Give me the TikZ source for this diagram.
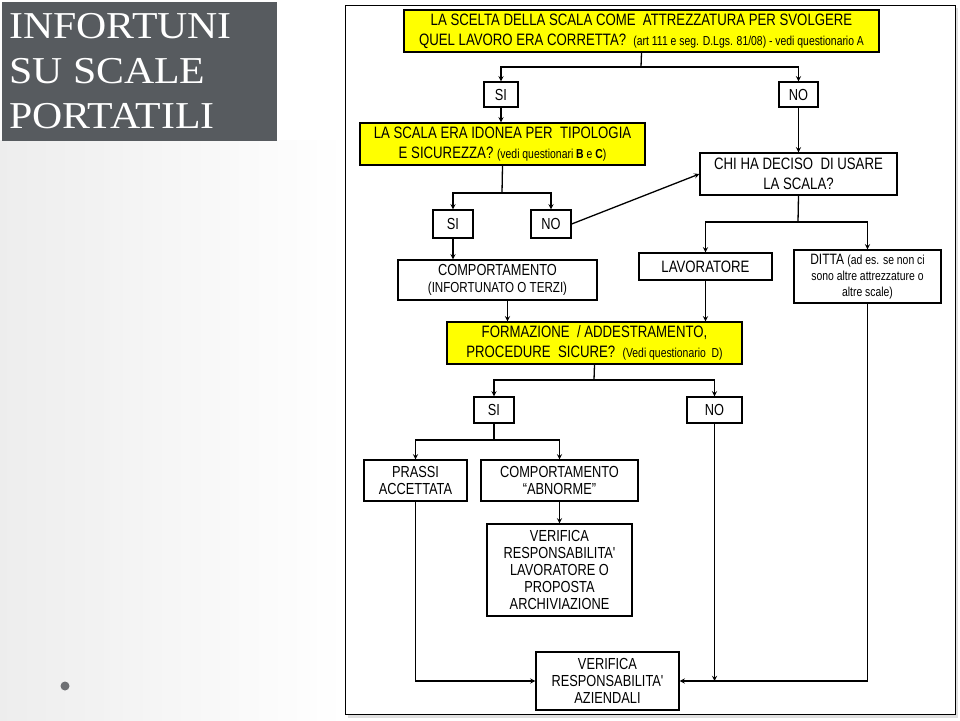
\documentclass[tikz,border=0pt]{standalone}
\usepackage{fontspec}
\setmainfont{Liberation Serif}
\newfontfamily\titlefont[FakeStretch=1.1]{Liberation Serif}
\newfontfamily\boxfont[FakeStretch=0.8]{Liberation Sans}
\newfontfamily\notefont[FakeStretch=0.8]{Liberation Sans}
\usetikzlibrary{arrows,shapes,positioning,calc}
\definecolor{qyellow}{RGB}{255,255,0}
\definecolor{titlegray}{RGB}{87,91,95}
\definecolor{dotgray}{RGB}{110,112,115}
\tikzstyle{arrow} = [line width=1.3pt,->,>=stealth]
\tikzstyle{link} = [line width=1.3pt]
\tikzstyle{ansbox} = [rectangle, draw=black, line width=1.3pt, fill=white, inner sep=0pt, align=center, font=\boxfont\fontsize{16}{17}\selectfont]
\tikzstyle{qbox} = [ansbox, fill=qyellow, font=\boxfont\fontsize{16.5}{20}\selectfont]
\tikzstyle{titletext} = [anchor=base west, inner sep=0pt, text=white, font=\titlefont\fontsize{38}{40}\selectfont]
\newcommand{\note}[1]{{\notefont\fontsize{13}{13}\selectfont #1}}

\begin{document}
\begin{tikzpicture}[x=1pt, y=-1pt]
\useasboundingbox (0,0) rectangle (960,720);
% page background
\fill[white] (0,0) rectangle (960,720);
\shade[left color=black!7, right color=white] (0,140) rectangle (345,720);
\fill[dotgray] (65,686) circle (4.5);

% title
\node[fill=titlegray, anchor=north west, minimum width=275, minimum height=139, inner sep=0pt] (title) at (2,2) {};
\node[titletext] (title1) at (9,38) {INFORTUNI};
\node[titletext] (title2) at (9,83) {SU SCALE};
\node[titletext] (title3) at (9,128) {PORTATILI};

% frame of the chart
\fill[black!12] (348,8) rectangle (958,718);
\draw[line width=1pt, fill=white] (345,5) rectangle (955,714);

% questions and answers
\node[qbox, minimum width=475, minimum height=42] (q1) at (641.5,31) {LA SCELTA DELLA SCALA COME \ ATTREZZATURA PER SVOLGERE\\QUEL LAVORO ERA CORRETTA? \ \note{(art 111 e seg. D.Lgs. 81/08) - vedi questionario A}};
\node[ansbox, minimum width=34, minimum height=25] (si1) at (501,94.5) {SI};
\node[ansbox, minimum width=39, minimum height=25] (no1) at (798.5,94.5) {NO};
\node[qbox, minimum width=285, minimum height=42] (q2) at (502.5,144) {LA SCALA ERA IDONEA PER \ TIPOLOGIA\\E SICUREZZA? \note{(vedi questionari \textbf{B} e \textbf{C})}};
\node[ansbox, minimum width=197, minimum height=42, font=\boxfont\fontsize{16.5}{20}\selectfont] (chi) at (798.5,174) {CHI HA DECISO \ DI USARE\\LA SCALA?};
\node[ansbox, minimum width=40, minimum height=28] (si2) at (453,224) {SI};
\node[ansbox, minimum width=40, minimum height=28] (no2) at (551,224) {NO};
\node[ansbox, minimum width=199, minimum height=40] (comp1) at (497.5,280) {COMPORTAMENTO\\{\fontsize{14.5}{17}\selectfont(INFORTUNATO O TERZI)}};
\node[ansbox, minimum width=133, minimum height=27, font=\boxfont\fontsize{16.5}{17}\selectfont] (lav) at (705.5,266.5) {LAVORATORE};
\node[ansbox, minimum width=147, minimum height=53, font=\boxfont\fontsize{15}{16}\selectfont] (ditta) at (867.5,276.5) {DITTA \note{(ad es. se non ci}\\\note{sono altre attrezzature o}\\\note{altre scale)}};
\node[qbox, minimum width=295, minimum height=42] (form) at (594.5,343) {FORMAZIONE \ / ADDESTRAMENTO,\\PROCEDURE \ SICURE? \ \note{(Vedi questionario \ D)}};
\node[ansbox, minimum width=40, minimum height=26] (si3) at (494,410) {SI};
\node[ansbox, minimum width=55, minimum height=26] (no3) at (714.5,410) {NO};
\node[ansbox, minimum width=103, minimum height=41] (prassi) at (415.5,480.5) {PRASSI\\ACCETTATA};
\node[ansbox, minimum width=157, minimum height=41] (comp2) at (559.5,480.5) {COMPORTAMENTO\\“ABNORME”};
\node[ansbox, minimum width=145, minimum height=92] (verlav) at (559.5,570) {VERIFICA\\RESPONSABILITA'\\LAVORATORE O\\PROPOSTA\\ARCHIVIAZIONE};
\node[ansbox, minimum width=143, minimum height=58] (veraz) at (607.5,681) {VERIFICA\\RESPONSABILITA'\\AZIENDALI};

% branch points
\coordinate (b1) at (641,67);
\coordinate (b2) at (502,193);
\coordinate (b3) at (798,222);
\coordinate (b4) at (594,380);
\coordinate (b5) at (494,440);

% connectors
\draw[link] (q1.south) -- (b1);
\draw[arrow] (b1) -| (si1.north);
\draw[arrow] (b1) -| (no1.north);
\draw[arrow] (si1.south) -- (si1.south |- q2.north);
\draw[arrow] (no1.south) -- (no1.south |- chi.north);
\draw[link] (q2.south) -- (b2);
\draw[arrow] (b2) -| (si2.north);
\draw[arrow] (b2) -| (no2.north);
\draw[arrow] (no2.east) -- (chi.west);
\draw[arrow] (si2.south) -- (si2.south |- comp1.north);
\draw[link] (chi.south) -- (b3);
\draw[arrow] (b3) -| (lav.north);
\draw[arrow] (b3) -| (ditta.north);
\draw[arrow] ([xshift=10pt]comp1.south) -- ([xshift=10pt]comp1.south |- form.north);
\draw[arrow] (lav.south) -- (lav.south |- form.north);
\draw[link] (form.south) -- (b4);
\draw[arrow] (b4) -| (si3.north);
\draw[arrow] (b4) -| (no3.north);
\draw[link] (si3.south) -- (b5);
\draw[arrow] (b5) -| (prassi.north);
\draw[arrow] (b5) -| (comp2.north);
\draw[arrow] (comp2.south) -- (verlav.north);
\draw[arrow] (prassi.south) |- (veraz.west);
\draw[arrow] (ditta.south) |- (veraz.east);
\draw[arrow] (no3.south) -- (no3.south |- veraz.east);
\end{tikzpicture}
\end{document}
